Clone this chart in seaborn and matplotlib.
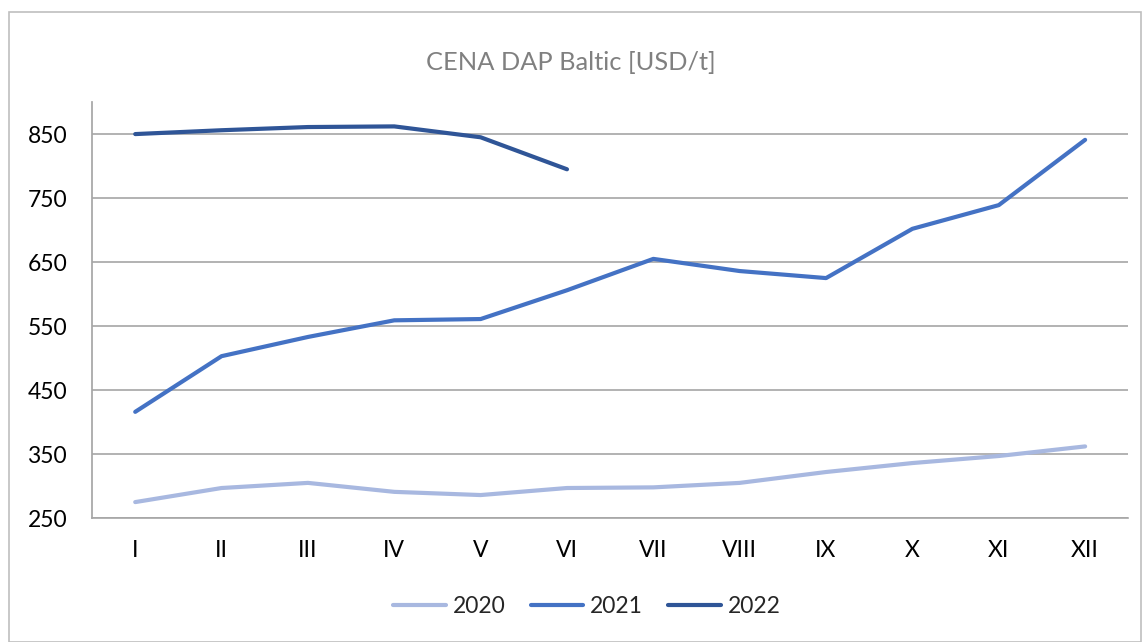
import matplotlib

matplotlib.use("Agg")
import matplotlib.pyplot as plt
import pandas as pd
import seaborn as sns
from matplotlib.patches import Rectangle

# ---------------------------------------------------------------
# data (USD/t)
# ---------------------------------------------------------------
months = ["I", "II", "III", "IV", "V", "VI", "VII", "VIII", "IX", "X", "XI", "XII"]
price_2020 = [275, 297, 305, 291, 286, 297, 298, 305, 322, 336, 347, 362]
price_2021 = [416, 503, 533, 559, 561, 606, 655, 636, 625, 702, 739, 841]
price_2022 = [850, 856, 861, 862, 845, 795]
years = ["2020", "2021", "2022"]
colors = ["#A8B8E0", "#4472C4", "#2F5597"]
y_ticks = [250, 350, 450, 550, 650, 750, 850]

rows = []
for year, vals in zip(years, [price_2020, price_2021, price_2022]):
    for m, v in zip(months, vals):
        rows.append({"month": m, "year": year, "price": v})
df = pd.DataFrame(rows)

sns.set_theme(style="white")
plt.rcParams["font.family"] = ["Lato", "DejaVu Sans"]

fig = plt.figure(figsize=(11.42, 6.42), dpi=100)
ax = fig.add_axes([0.0806, 0.193, 0.9074, 0.648])

sns.lineplot(
    data=df, x="month", y="price", hue="year", palette=colors,
    linewidth=3, sort=False, ax=ax,
)

ax.set_xlim(-0.5, 11.5)
ax.set_ylim(250, 900)
ax.set_yticks(y_ticks)
ax.set_xticks(range(len(months)))
ax.set_xticklabels(months)
ax.grid(axis="y", color="#A6A6A6", linewidth=1.2)
ax.set_axisbelow(True)
for side in ["top", "right"]:
    ax.spines[side].set_visible(False)
ax.spines["left"].set_color("#A6A6A6")
ax.spines["bottom"].set_color("#A6A6A6")
ax.spines["bottom"].set_linewidth(1.2)
ax.tick_params(axis="both", labelsize=16.5, colors="black", length=0)
ax.tick_params(axis="y", pad=18)
ax.tick_params(axis="x", pad=16)
ax.set_xlabel("")
ax.set_ylabel("")

fig.text(0.5, 0.903, "CENA DAP Baltic [USD/t]", ha="center", va="center",
         fontsize=18.3, color="#808080")

handles, labels = ax.get_legend_handles_labels()
ax.legend(handles, labels, loc="center", bbox_to_anchor=(0.514, 0.055),
          bbox_transform=fig.transFigure, ncol=3, frameon=False,
          fontsize=16.5, handlelength=2.3, columnspacing=1.1, handletextpad=0.3)

# outer chart frame
fig.patches.append(Rectangle((9 / 1142, 0.0), 1132 / 1142, 1 - 12 / 642,
                             transform=fig.transFigure, fill=False,
                             edgecolor="#BFBFBF", linewidth=1.2))

fig.savefig("out.png", dpi=100)
